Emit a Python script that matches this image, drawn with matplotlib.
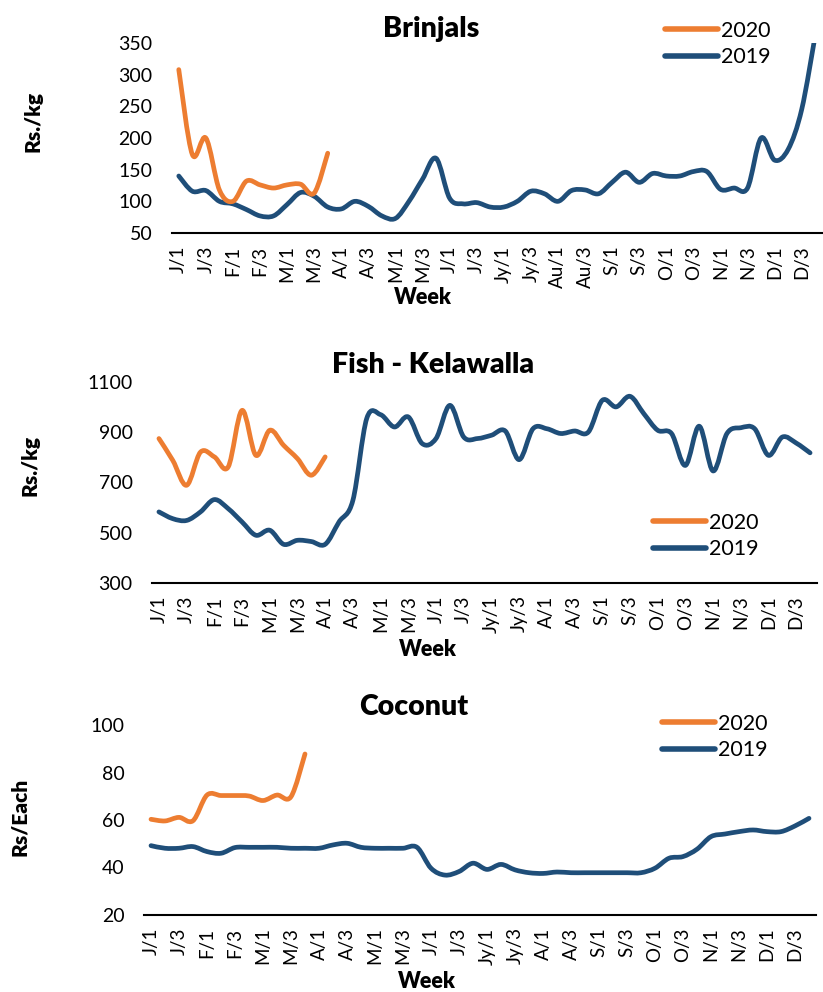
import matplotlib
matplotlib.use("Agg")
import matplotlib.pyplot as plt
from matplotlib.path import Path
from matplotlib.patches import PathPatch
from matplotlib.lines import Line2D
import numpy as np

plt.rcParams["font.family"] = ["Lato", "DejaVu Sans"]

ORANGE = "#ED7D31"
BLUE = "#1F4E79"

# Week labels (only /1 and /3 are shown on the axis)
months_a = ["J", "F", "M", "A", "M", "J", "Jy", "Au", "S", "O", "N", "D"]
months_b = ["J", "F", "M", "A", "M", "J", "Jy", "A", "S", "O", "N", "D"]

# Brinjals (Rs./kg)
brinjal_2020 = [308, 174, 200, 118, 100, 132, 126, 121, 126, 127, 113, 176]
brinjal_2019 = [140, 116, 117, 100, 96, 87, 77, 77, 95, 114, 108, 91,
                88, 100, 92, 77, 73, 100, 135, 168, 105, 96, 98, 91,
                91, 100, 116, 112, 100, 117, 118, 112, 130, 146, 130, 144,
                140, 140, 147, 147, 119, 121, 121, 200, 165, 182, 245, 362]

# Fish - Kelawalla (Rs./kg)
fish_2020 = [875, 788, 689, 821, 802, 762, 987, 808, 908, 848, 795, 729, 802]
fish_2019 = [583, 556, 549, 583, 632, 596, 543, 490, 510, 454, 470, 465,
             454, 543, 629, 955, 970, 921, 961, 855, 875, 1007, 881, 875,
             888, 905, 791, 914, 914, 895, 905, 901, 1027, 1001, 1043, 974,
             908, 895, 768, 924, 746, 895, 918, 914, 808, 881, 857, 818]

# Coconut (Rs/Each)
coconut_2020 = [60.3, 59.6, 61.1, 59.7, 70.5, 70.3, 70.3, 70.1, 68.2, 70.5, 69.8, 87.8]
coconut_2019 = [49.2, 48.1, 48.1, 48.8, 46.7, 46.0, 48.4, 48.5, 48.5, 48.5, 48.1, 48.1,
                48.1, 49.5, 50.2, 48.5, 48.1, 48.1, 48.1, 48.5, 39.7, 36.8, 38.3, 41.8,
                39.2, 41.3, 39.0, 37.8, 37.5, 38.1, 37.8, 37.8, 37.8, 37.8, 37.8, 37.8,
                39.7, 43.9, 44.6, 47.7, 53.0, 54.1, 55.1, 55.8, 55.1, 55.1, 57.5, 60.7]


def week_labels(months):
    labels = []
    for m in months:
        for w in range(1, 5):
            labels.append(f"{m}/{w}")
    return labels


def smooth_line(ax, values, color):
    # Excel-style smoothed line: cubic Bezier through every data point
    y = np.asarray(values, dtype=float)
    x = np.arange(len(y), dtype=float)
    pts = np.column_stack([x, y])
    verts = [pts[0]]
    codes = [Path.MOVETO]
    n = len(pts)
    for i in range(n - 1):
        p0 = pts[i - 1] if i > 0 else pts[i]
        p1 = pts[i]
        p2 = pts[i + 1]
        p3 = pts[i + 2] if i + 2 < n else pts[i + 1]
        c1 = p1 + (p2 - p0) / 6.0
        c2 = p2 - (p3 - p1) / 6.0
        verts += [c1, c2, p2]
        codes += [Path.CURVE4] * 3
    patch = PathPatch(Path(verts, codes), facecolor="none", edgecolor=color,
                      lw=3.4, capstyle="round", joinstyle="round")
    ax.add_patch(patch)


def draw_panel(rect, v2019, v2020, months, yticks, ylabel, title,
               title_xy, ylabel_xy, week_xy, legend_xy):
    ax = fig.add_axes(rect)
    smooth_line(ax, v2019, BLUE)
    smooth_line(ax, v2020, ORANGE)
    ax.set_xlim(-0.5, 47.5)
    ax.set_ylim(yticks[0], yticks[-1])
    ax.set_yticks(yticks)
    labels = week_labels(months)
    ax.set_xticks(range(0, 48, 2))
    ax.set_xticklabels(labels[::2], rotation=90)
    ax.tick_params(axis="y", length=0, labelsize=14, pad=14)
    ax.tick_params(axis="x", length=0, labelsize=13.5, pad=9)
    for s in ["top", "right", "left"]:
        ax.spines[s].set_visible(False)
    ax.spines["bottom"].set_linewidth(1.5)
    ax.spines["bottom"].set_color("black")
    ax.patch.set_alpha(0)

    fig.text(title_xy[0] / W, 1 - title_xy[1] / H, title, ha="center",
             va="center", fontsize=20.5, fontweight="heavy")
    fig.text(ylabel_xy[0] / W, 1 - ylabel_xy[1] / H, ylabel, ha="center",
             va="center", rotation=90, fontsize=15, fontweight="heavy")
    fig.text(week_xy[0] / W, 1 - week_xy[1] / H, "Week", ha="center",
             va="center", fontsize=15.5, fontweight="heavy")

    handles = [Line2D([], [], color=ORANGE, lw=4, solid_capstyle="round"),
               Line2D([], [], color=BLUE, lw=4, solid_capstyle="round")]
    fig.legend(handles, ["2020", "2019"], loc="center left",
               bbox_to_anchor=(legend_xy[0] / W, 1 - legend_xy[1] / H),
               frameon=False, fontsize=15.5, handlelength=2.45,
               handletextpad=0.15, labelspacing=0.3, borderpad=0,
               borderaxespad=0)
    return ax


W, H = 823, 992
fig = plt.figure(figsize=(W / 100, H / 100), dpi=100)

draw_panel([172 / W, 1 - 233 / H, (822 - 172) / W, (233 - 43) / H],
           brinjal_2019, brinjal_2020, months_a,
           [50, 100, 150, 200, 250, 300, 350], "Rs./kg", "Brinjals",
           (431, 29), (33, 121), (423, 298), (665, 44))

draw_panel([152 / W, 1 - 583 / H, (817 - 152) / W, (583 - 382) / H],
           fish_2019, fish_2020, months_b,
           [300, 500, 700, 900, 1100], "Rs./kg", "Fish - Kelawalla",
           (433, 365), (30, 465), (428, 649), (653, 536))

draw_panel([144 / W, 1 - 915 / H, (816 - 144) / W, (915 - 725) / H],
           coconut_2019, coconut_2020, months_b,
           [20, 40, 60, 80, 100], "Rs/Each", "Coconut",
           (414, 707), (20, 817), (427, 981), (662, 737))

fig.savefig("out.png", dpi=100)
